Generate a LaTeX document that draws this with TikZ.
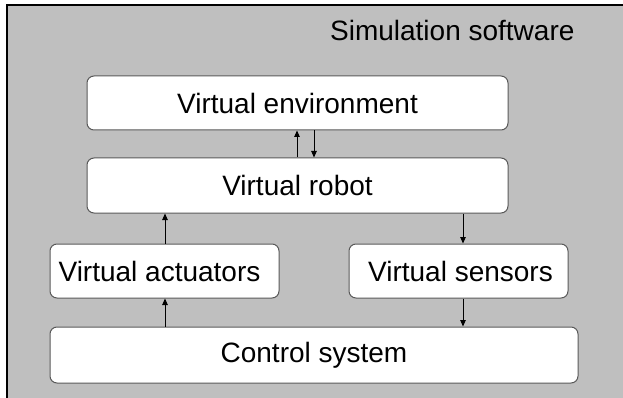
\documentclass[tikz,border=0pt]{standalone}
\usepackage{fontspec}
\setmainfont{Liberation Sans}
\usetikzlibrary{arrows.meta}
\begin{document}
\begin{tikzpicture}[x=1pt,y=-1pt,
  box/.style={draw=black!65,fill=white,rounded corners=7pt,line width=1pt,inner sep=0pt},
  conn/.style={line width=1pt,-{Triangle[length=6.5pt,width=5.5pt]}},
  lbl/.style={font=\fontsize{28}{31}\selectfont}]
\useasboundingbox (0,0) rectangle (623,398);
\fill[white] (0,0) rectangle (623,398);
\draw[fill=black!25,line width=1.2pt] (7,5) rectangle (660,430);
\node[lbl,anchor=east] (title) at (578,30) {Simulation software};
\node[box,minimum width=421pt,minimum height=54pt] (env) at (297.5,103) {};
\node[lbl] at (env) {Virtual environment};
\node[box,minimum width=421pt,minimum height=55pt] (robot) at (297.5,185.5) {};
\node[lbl] at (robot) {Virtual robot};
\node[box,minimum width=229pt,minimum height=54pt] (act) at (164.5,271) {};
\node[lbl] at ([xshift=-5pt]act.center) {Virtual actuators};
\node[box,minimum width=219pt,minimum height=54pt] (sens) at (458.5,271) {};
\node[lbl] at ([xshift=2pt]sens.center) {Virtual sensors};
\node[box,minimum width=528pt,minimum height=56pt] (ctrl) at (314,355) {};
\node[lbl] at (ctrl) {Control system};
\draw[conn] (robot.north -| 297,0) -- (env.south -| 297,0);
\draw[conn] (env.south -| 314,0) -- (robot.north -| 314,0);
\draw[conn] (act.north -| 165,0) -- (robot.south -| 165,0);
\draw[conn] (ctrl.north -| 165,0) -- (act.south -| 165,0);
\draw[conn] (robot.south -| 463,0) -- (sens.north -| 463,0);
\draw[conn] (sens.south -| 463,0) -- (ctrl.north -| 463,0);
\end{tikzpicture}
\end{document}
